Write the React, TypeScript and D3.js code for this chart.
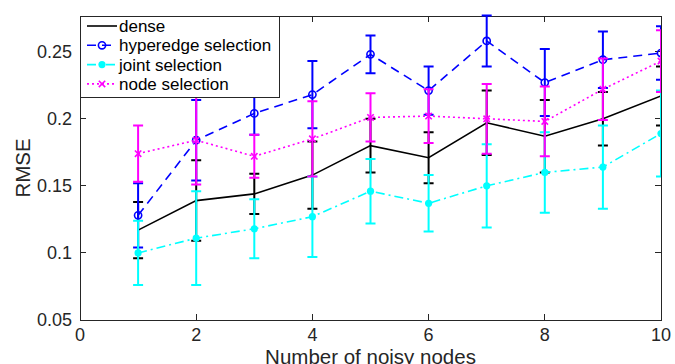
import { useEffect, useRef } from "react"
import * as d3 from "d3"

const noisyNodes = [1, 2, 3, 4, 5, 6, 7, 8, 9, 10]

const dense = [0.117, 0.139, 0.144, 0.158, 0.18, 0.171, 0.197, 0.187, 0.2, 0.217]
const denseErr = [0.021, 0.03, 0.015, 0.025, 0.02, 0.019, 0.024, 0.027, 0.02, 0.022]

const hyperedge = [0.128, 0.184, 0.204, 0.218, 0.248, 0.221, 0.258, 0.227, 0.244, 0.249]
const hyperedgeErr = [0.024, 0.03, 0.016, 0.025, 0.014, 0.018, 0.019, 0.025, 0.021, 0.02]

const joint = [0.1, 0.111, 0.118, 0.127, 0.146, 0.137, 0.15, 0.16, 0.164, 0.189]
const jointErr = [0.024, 0.035, 0.022, 0.03, 0.024, 0.021, 0.031, 0.03, 0.031, 0.032]

const node = [0.174, 0.184, 0.172, 0.185, 0.201, 0.202, 0.2, 0.198, 0.222, 0.243]
const nodeErr = [0.021, 0.033, 0.016, 0.028, 0.018, 0.02, 0.026, 0.026, 0.023, 0.023]

const xTicks = [0, 2, 4, 6, 8, 10]
const yTicks = [0.05, 0.1, 0.15, 0.2, 0.25]

const seriesNames = ["dense", "hyperedge selection", "joint selection", "node selection"]

const FONT = "'Liberation Sans', Arial, Helvetica, sans-serif"
const AXIS = "#262626"

export default function App() {
  const svgRef = useRef<SVGSVGElement>(null)

  useEffect(() => {
    if (!svgRef.current) return

    const width = 675
    const height = 364
    const margin = { top: 16, right: 14, bottom: 44, left: 80 }
    const innerW = width - margin.left - margin.right
    const innerH = height - margin.top - margin.bottom

    d3.select(svgRef.current).selectAll("*").remove()

    const root = d3.select(svgRef.current).attr("width", width).attr("height", height)

    const svg = root.append("g").attr("transform", `translate(${margin.left},${margin.top})`)

    const x = d3.scaleLinear().domain([0, 10]).range([0, innerW])
    const y = d3.scaleLinear().domain([0.05, 0.2766]).range([innerH, 0])

    root
      .append("defs")
      .append("clipPath")
      .attr("id", "plotClip")
      .append("rect")
      .attr("x", 0)
      .attr("y", -2)
      .attr("width", innerW)
      .attr("height", innerH + 2)

    // box + ticks
    svg
      .append("rect")
      .attr("width", innerW)
      .attr("height", innerH)
      .attr("fill", "none")
      .attr("stroke", AXIS)
      .attr("stroke-width", 1)
      .attr("shape-rendering", "crispEdges")

    const tickLen = 6
    xTicks.forEach((t) => {
      svg.append("line").attr("x1", x(t)).attr("x2", x(t)).attr("y1", innerH).attr("y2", innerH - tickLen)
        .attr("stroke", AXIS).attr("shape-rendering", "crispEdges")
      svg.append("line").attr("x1", x(t)).attr("x2", x(t)).attr("y1", 0).attr("y2", tickLen)
        .attr("stroke", AXIS).attr("shape-rendering", "crispEdges")
      svg.append("text").attr("x", x(t)).attr("y", innerH + 21).attr("text-anchor", "middle")
        .attr("font-family", FONT).attr("font-size", 18).attr("fill", AXIS).text(String(t))
    })
    yTicks.forEach((t) => {
      svg.append("line").attr("x1", 0).attr("x2", tickLen).attr("y1", y(t)).attr("y2", y(t))
        .attr("stroke", AXIS).attr("shape-rendering", "crispEdges")
      svg.append("line").attr("x1", innerW).attr("x2", innerW - tickLen).attr("y1", y(t)).attr("y2", y(t))
        .attr("stroke", AXIS).attr("shape-rendering", "crispEdges")
      svg.append("text").attr("x", -8).attr("y", y(t) + 6).attr("text-anchor", "end")
        .attr("font-family", FONT).attr("font-size", 18).attr("fill", AXIS)
        .text(String(+t.toFixed(2)))
    })

    // axis labels (x label is cut at the bottom edge, as in the original figure)
    svg.append("text").attr("x", innerW / 2).attr("y", innerH + 44).attr("text-anchor", "middle")
      .attr("font-family", FONT).attr("font-size", 20.5).attr("fill", AXIS).text("Number of noisy nodes")
    svg.append("text").attr("transform", `translate(-50,${innerH / 2}) rotate(-90)`)
      .attr("text-anchor", "middle").attr("font-family", FONT).attr("font-size", 20.5).attr("fill", AXIS)
      .text("RMSE")

    const series = [
      { name: seriesNames[0], values: dense, errs: denseErr, color: "#000000", dash: null, marker: "none" },
      { name: seriesNames[1], values: hyperedge, errs: hyperedgeErr, color: "#0000ff", dash: "9,6", marker: "o" },
      { name: seriesNames[2], values: joint, errs: jointErr, color: "#00ffff", dash: "9,4,2,4", marker: "." },
      { name: seriesNames[3], values: node, errs: nodeErr, color: "#ff00ff", dash: "2,3", marker: "x" },
    ]

    const drawMarker = (g: any, kind: string, cx: number, cy: number, color: string) => {
      if (kind === "o") {
        g.append("circle").attr("cx", cx).attr("cy", cy).attr("r", 3.6)
          .attr("fill", "none").attr("stroke", color).attr("stroke-width", 1.6)
      } else if (kind === ".") {
        g.append("circle").attr("cx", cx).attr("cy", cy).attr("r", 3.6).attr("fill", color)
      } else if (kind === "x") {
        const s = 3.2
        g.append("path")
          .attr("d", `M${cx - s},${cy - s}L${cx + s},${cy + s}M${cx - s},${cy + s}L${cx + s},${cy - s}`)
          .attr("stroke", color).attr("stroke-width", 1.6).attr("fill", "none")
      }
    }

    const plot = svg.append("g").attr("clip-path", "url(#plotClip)")
    const capW = 5

    series.forEach((s) => {
      const g = plot.append("g")
      // error bars
      noisyNodes.forEach((n, i) => {
        const cx = x(n)
        const lo = y(s.values[i] - s.errs[i])
        const hi = y(s.values[i] + s.errs[i])
        g.append("path")
          .attr("d", `M${cx},${lo}L${cx},${hi}M${cx - capW},${lo}L${cx + capW},${lo}M${cx - capW},${hi}L${cx + capW},${hi}`)
          .attr("stroke", s.color).attr("stroke-width", 2).attr("fill", "none")
      })
      const line = d3.line<number>().x((_, i) => x(noisyNodes[i])).y((d) => y(d))
      g.append("path").datum(s.values).attr("d", line as any)
        .attr("fill", "none").attr("stroke", s.color).attr("stroke-width", 1.6)
        .attr("stroke-dasharray", s.dash)
      noisyNodes.forEach((n, i) => drawMarker(g, s.marker, x(n), y(s.values[i]), s.color))
    })

    // legend
    const lg = svg.append("g")
    lg.append("rect").attr("x", 0).attr("y", 0).attr("width", 199).attr("height", 81)
      .attr("fill", "#ffffff").attr("stroke", AXIS).attr("stroke-width", 1).attr("shape-rendering", "crispEdges")
    series.forEach((s, i) => {
      const ly = 10 + i * 19.3
      lg.append("line").attr("x1", 7).attr("x2", 37).attr("y1", ly).attr("y2", ly)
        .attr("stroke", s.color).attr("stroke-width", 1.6).attr("stroke-dasharray", s.dash)
      drawMarker(lg, s.marker, 22, ly, s.color)
      lg.append("text").attr("x", 39).attr("y", ly + 6).attr("font-family", FONT).attr("font-size", 17)
        .attr("fill", "#000").text(s.name)
    })
  }, [])

  return <svg ref={svgRef} style={{ position: "absolute", left: 0, top: 0 }} />
}
